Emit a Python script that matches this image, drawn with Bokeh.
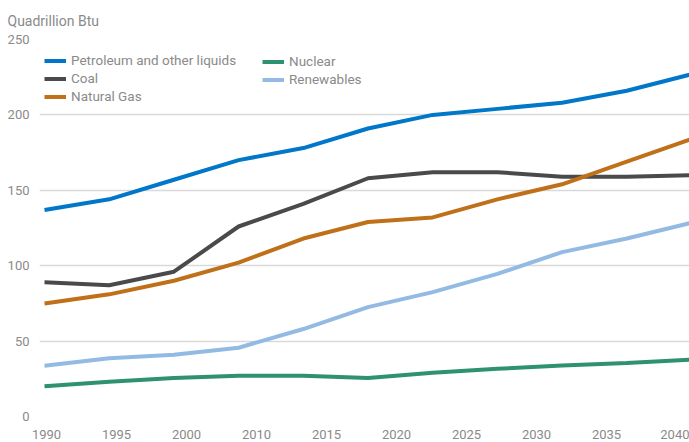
from bokeh.plotting import figure
from bokeh.models import FixedTicker, Legend, LegendItem
from bokeh.embed import file_html
from bokeh.resources import INLINE

# data (index positions along the category axis)
points = [0, 1, 2, 3, 4, 5, 6, 7, 8, 9, 10]
petroleum = [137, 144, 157, 170, 178, 191, 200, 204, 208, 216, 227]
coal = [89, 87, 96, 126, 141, 158, 162, 162, 159, 159, 160]
natural_gas = [75, 81, 90, 102, 118, 129, 132, 144, 154, 169, 184]
nuclear = [20, 23, 25.5, 27, 27, 25.6, 29, 31.6, 33.8, 35.4, 37.8]
renewables = [33.6, 38.7, 41, 45.6, 58, 72.5, 82.5, 94.6, 109, 118, 128.5]
tick_labels = ["1990", "1995", "2000", "2010", "2015", "2020", "2025", "2030", "2035", "2040"]
y_ticks = [0, 50, 100, 150, 200, 250]

series = [
    ("Petroleum and other liquids", petroleum, "#0077C8"),
    ("Coal", coal, "#4A4A4C"),
    ("Natural Gas", natural_gas, "#BF7018"),
    ("Nuclear", nuclear, "#2E9170"),
    ("Renewables", renewables, "#93BAE3"),
]

FONT = "Roboto"
GREY = "#8A8A8A"

p = figure(width=689, height=442, output_backend="svg", toolbar_location=None,
           x_range=(-5 / 64.7, 645 / 64.7), y_range=(0, 250),
           min_border_left=39, min_border_right=0, min_border_top=39, min_border_bottom=26)
p.outline_line_color = None
p.background_fill_color = "white"
p.border_fill_color = "white"

p.title.text = "Quadrillion Btu"
p.title.align = "left"
p.title.offset = -32
p.title.standoff = 21
p.title.text_font = FONT
p.title.text_font_size = "14px"
p.title.text_font_style = "normal"
p.title.text_color = GREY

items = []
for name, vals, col in series:
    r = p.line(points, vals, line_color=col, line_width=4)
    items.append(LegendItem(label=name, renderers=[r]))

def make_legend(its, x, vy):
    return Legend(items=its, location=(x, vy), orientation="vertical",
                  padding=0, margin=0, spacing=2, label_height=15, glyph_height=15, glyph_width=22,
                  label_standoff=5, label_text_font=FONT, label_text_font_size="13.5px",
                  label_text_color=GREY, border_line_color=None, background_fill_alpha=0)

p.add_layout(make_legend(items[:3], 5, 377 - 65))
p.add_layout(make_legend(items[3:], 223, 377 - 48))

tick_pos = [i * 70 / 64.7 + 2 / 64.7 for i in range(len(tick_labels))]
p.xaxis.ticker = FixedTicker(ticks=tick_pos)
p.xaxis.major_label_overrides = {t: lab for t, lab in zip(tick_pos, tick_labels)}
p.xaxis.axis_line_color = None
p.xaxis.major_tick_line_color = None
p.xaxis.minor_tick_line_color = None
p.xaxis.major_tick_out = 0
p.xaxis.major_tick_in = 0
p.xaxis.minor_tick_out = 0
p.xaxis.minor_tick_in = 0
p.xaxis.major_label_standoff = 13
p.xaxis.major_label_text_font = FONT
p.xaxis.major_label_text_font_size = "13px"
p.xaxis.major_label_text_color = GREY

p.yaxis.ticker = FixedTicker(ticks=y_ticks)
p.yaxis.axis_line_color = None
p.yaxis.major_tick_line_color = None
p.yaxis.minor_tick_line_color = None
p.yaxis.major_tick_out = 0
p.yaxis.major_tick_in = 0
p.yaxis.minor_tick_out = 0
p.yaxis.minor_tick_in = 0
p.yaxis.major_label_standoff = 10
p.yaxis.major_label_text_font = FONT
p.yaxis.major_label_text_font_size = "13px"
p.yaxis.major_label_text_color = GREY

p.xgrid.grid_line_color = None
p.ygrid.grid_line_color = "#D9D9D9"
p.ygrid.grid_line_width = 1.5

open("out.html", "w").write(file_html(p, INLINE))
